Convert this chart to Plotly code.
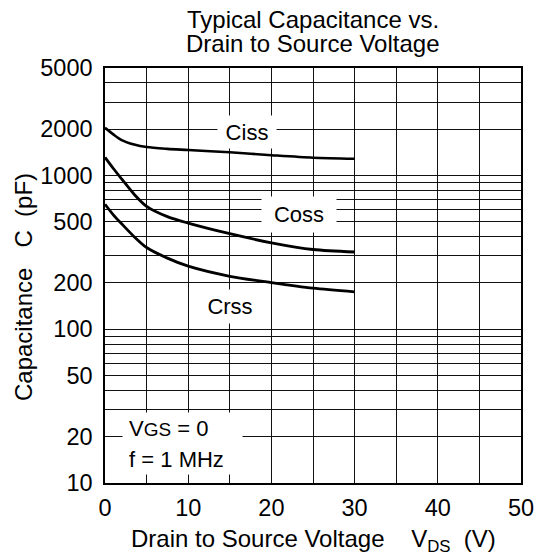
import plotly.graph_objects as go
import math

# ---- data ----
vds = [0, 1, 2, 3.5, 5, 7.5, 10, 15, 20, 25, 30]
ciss = [2040, 1850, 1700, 1590, 1530, 1490, 1465, 1415, 1355, 1305, 1285]
coss = [1310, 1110, 950, 755, 630, 540, 490, 418, 365, 330, 318]
crss = [650, 555, 485, 400, 340, 290, 257, 221, 201, 185, 175]

y_tick_vals = [10, 20, 50, 100, 200, 500, 1000, 2000, 5000]
y_tick_text = ["10", "20", "50", "100", "200", "500", "1000", "2000", "5000"]
y_minor_vals = [m * d for d in (10, 100, 1000) for m in range(1, 10) if m * d <= 5000]
x_tick_vals = [0, 10, 20, 30, 40, 50]

FONT = "Liberation Sans, Arial, Helvetica, sans-serif"
FS = 24
FL = 22

fig = go.Figure()
for name, vals, w in (("Ciss", ciss, 2.6), ("Coss", coss, 2.8), ("Crss", crss, 2.8)):
    fig.add_trace(go.Scatter(x=vds, y=vals, mode="lines", name=name,
                             line=dict(color="black", width=w, shape="spline", smoothing=0.8),
                             showlegend=False, hoverinfo="skip"))

GC = "#111111"

fig.update_layout(
    width=543, height=547,
    margin=dict(l=97, r=30, t=60, b=72),
    paper_bgcolor="white", plot_bgcolor="white",
    font=dict(family=FONT, size=FS, color="black"),
    showlegend=False,
    xaxis=dict(range=[0, 50], tickvals=x_tick_vals, ticks="", ticklabelstandoff=3,
               tickfont=dict(size=23.5),
               showline=True, mirror=True, linecolor="black", linewidth=1.5,
               zeroline=False, showgrid=True, gridcolor=GC, gridwidth=1,
               minor=dict(dtick=5, showgrid=True, gridcolor=GC, gridwidth=1)),
    yaxis=dict(type="log", range=[1, math.log10(5000)], tickvals=y_tick_vals, ticktext=y_tick_text,
               ticks="", ticklabelstandoff=6, tickfont=dict(size=23.5),
               showline=True, mirror=True, linecolor="black", linewidth=1.5, zeroline=False,
               showgrid=True, gridcolor=GC, gridwidth=1,
               minor=dict(tickvals=y_minor_vals, showgrid=True, gridcolor=GC, gridwidth=1)),
)

ann = []
# titles (shifts measured relative to the plot area edges)
ann.append(dict(text="Typical Capacitance vs.", xref="paper", yref="paper", x=0.5, y=1,
                yshift=68 - 19, xanchor="center", yanchor="middle", showarrow=False,
                font=dict(size=FS)))
ann.append(dict(text="Drain to Source Voltage", xref="paper", yref="paper", x=0.5, y=1,
                yshift=68 - 43, xanchor="center", yanchor="middle", showarrow=False,
                font=dict(size=FS)))
ann.append(dict(text="Drain to Source Voltage\u00a0\u00a0\u00a0\u00a0V<sub>DS</sub>\u00a0\u00a0(V)",
                xref="paper", yref="paper", x=0.5, y=0, yshift=-(540 - 483), xanchor="center",
                yanchor="middle", showarrow=False, font=dict(size=FS)))
ann.append(dict(text="Capacitance\u00a0\u00a0\u00a0C\u00a0\u00a0(pF)", xref="paper", yref="paper",
                x=0, xshift=-(105 - 23), y=0.5, yshift=-(287 - 275.5), textangle=-90,
                xanchor="center", yanchor="middle", showarrow=False, font=dict(size=FS)))

# curve labels with white boxes
def lab(text, px, py, w, h, align="center"):
    x = (px - 104.7) / 8.32
    y = (483 - py) / 154 + 1
    return dict(text=text, x=x, y=y, xref="x", yref="y", showarrow=False,
                bgcolor="white", width=w, height=h, align=align, borderpad=0,
                xanchor="center", yanchor="middle", font=dict(size=FL))

ann.append(lab("Ciss", 247, 131, 58, 32))
ann.append(lab("Coss", 298.5, 214.5, 74, 35))
ann.append(lab("Crss", 230, 306.5, 62, 33))
ann.append(lab("\u00a0V<span style='font-size:19px'>GS</span> = 0", 182.5, 428.5, 119, 31,
               align="left"))
ann.append(lab("\u00a0f = 1 MHz", 182.5, 459, 119, 30, align="left"))
fig.update_layout(annotations=ann)

fig.write_html("out.html")
